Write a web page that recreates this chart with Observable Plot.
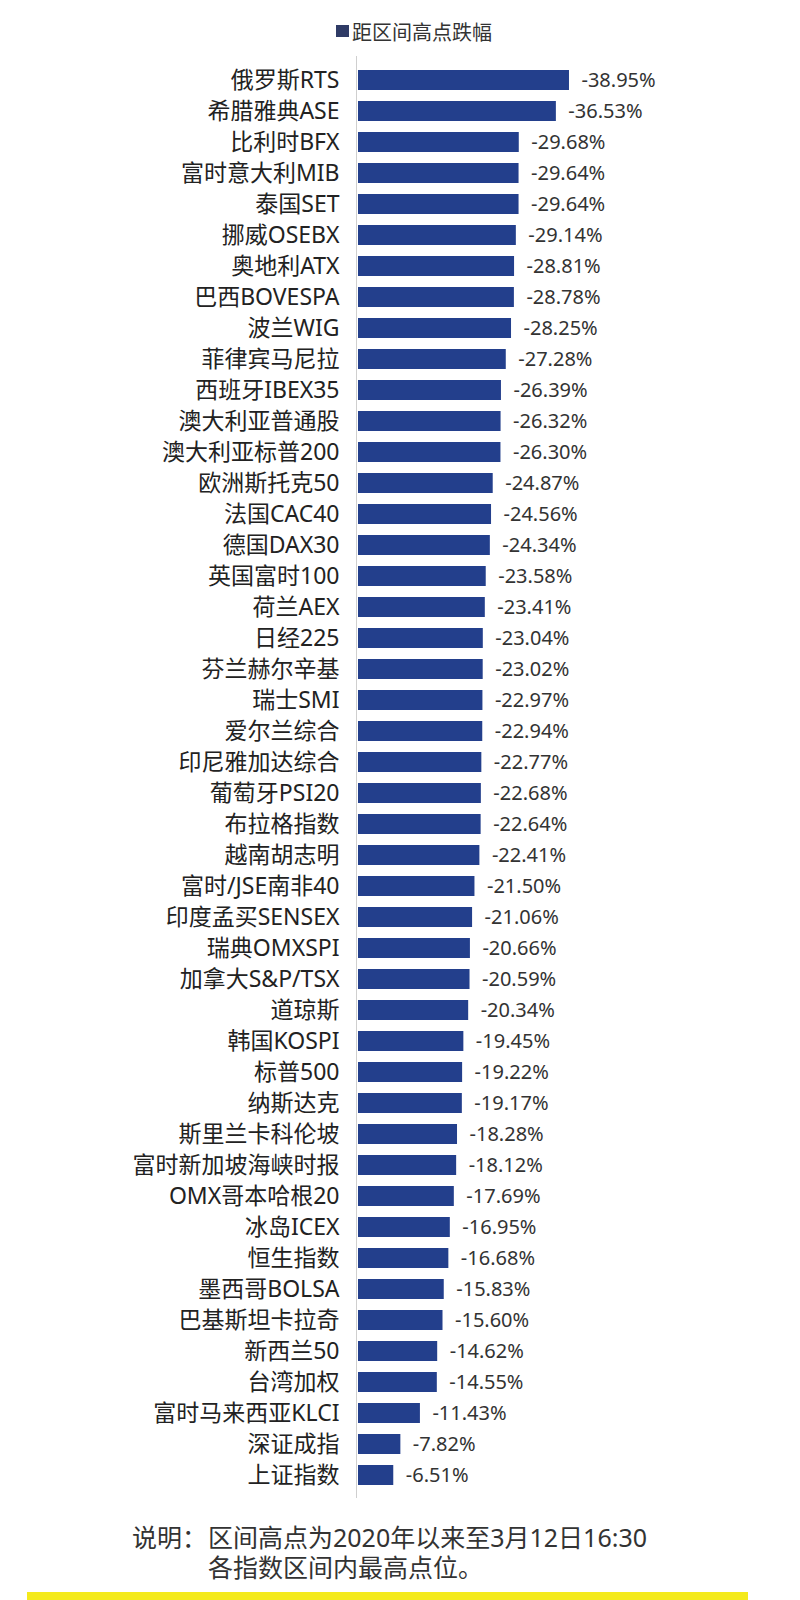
<!DOCTYPE html>
<html>
<head>
<meta charset="utf-8">
<script src="https://cdn.jsdelivr.net/npm/d3@7"></script>
<script src="https://cdn.jsdelivr.net/npm/@observablehq/plot@0.6"></script>
<style>
  html, body { margin: 0; padding: 0; background: #ffffff; }
  body { width: 800px; height: 1600px; position: relative; overflow: hidden;
         font-family: "Noto Sans", "Noto Sans CJK SC", sans-serif; }
  #legend { position: absolute; left: 336px; top: 17px; height: 28px; display: flex; align-items: center;
            font-size: 20px; color: #333; white-space: nowrap; }
  #legend .sw { width: 13px; height: 12px; background: #2f3b66; margin-right: 3px; }
  #chart { position: absolute; left: 0; top: 50px; }
  #caption { position: absolute; left: 132px; top: 1522px; font-size: 25px; line-height: 30px; color: #333; }
  #caption .lead { position: absolute; left: 0; top: 0; white-space: nowrap; }
  #caption .body { position: absolute; left: 76px; top: 0; white-space: nowrap; }
  #strip { position: absolute; left: 27px; top: 1592px; width: 721px; height: 8px; background: #f4ea1c; }
</style>
</head>
<body>
<div id="legend"><div class="sw"></div><span>距区间高点跌幅</span></div>
<div id="chart"></div>
<div id="caption"><div class="lead">说明：</div><div class="body">区间高点为2020年以来至3月12日16:30<br>各指数区间内最高点位。</div></div>
<div id="strip"></div>
<script>
const names = [
  "俄罗斯RTS", "希腊雅典ASE", "比利时BFX", "富时意大利MIB", "泰国SET", "挪威OSEBX",
  "奥地利ATX", "巴西BOVESPA", "波兰WIG", "菲律宾马尼拉", "西班牙IBEX35", "澳大利亚普通股",
  "澳大利亚标普200", "欧洲斯托克50", "法国CAC40", "德国DAX30", "英国富时100", "荷兰AEX",
  "日经225", "芬兰赫尔辛基", "瑞士SMI", "爱尔兰综合", "印尼雅加达综合", "葡萄牙PSI20",
  "布拉格指数", "越南胡志明", "富时/JSE南非40", "印度孟买SENSEX", "瑞典OMXSPI", "加拿大S&P/TSX",
  "道琼斯", "韩国KOSPI", "标普500", "纳斯达克", "斯里兰卡科伦坡", "富时新加坡海峡时报",
  "OMX哥本哈根20", "冰岛ICEX", "恒生指数", "墨西哥BOLSA", "巴基斯坦卡拉奇", "新西兰50",
  "台湾加权", "富时马来西亚KLCI", "深证成指", "上证指数"
];
const values = [
  -38.95, -36.53, -29.68, -29.64, -29.64, -29.14,
  -28.81, -28.78, -28.25, -27.28, -26.39, -26.32,
  -26.30, -24.87, -24.56, -24.34, -23.58, -23.41,
  -23.04, -23.02, -22.97, -22.94, -22.77, -22.68,
  -22.64, -22.41, -21.50, -21.06, -20.66, -20.59,
  -20.34, -19.45, -19.22, -19.17, -18.28, -18.12,
  -17.69, -16.95, -16.68, -15.83, -15.60, -14.62,
  -14.55, -11.43, -7.82, -6.51
];
const seriesName = "距区间高点跌幅";

const data = names.map((name, i) => ({name, value: values[i]}));

const chart = Plot.plot({
  width: 800,
  height: 1460,
  marginTop: 6,
  marginBottom: 12,
  marginLeft: 358,
  marginRight: 117,
  style: {fontFamily: '"Noto Sans", "Noto Sans CJK SC", sans-serif', background: "transparent"},
  x: {domain: [0, -60], axis: null},
  y: {domain: names, padding: 0.357, axis: null},
  marks: [
    Plot.ruleX([0], {stroke: "#cfcfcf", strokeWidth: 1, dx: -2}),
    Plot.barX(data, {x: "value", y: "name", fill: "#233f8c", title: d => seriesName}),
    Plot.text(data, {
      x: "value", y: "name",
      text: d => d.value.toFixed(2) + "%",
      textAnchor: "start", dx: 12, fontSize: 20, fill: "#333"
    }),
    Plot.axisY({tickSize: 0, tickPadding: 19, fontSize: 23, fill: "#222", label: null})
  ]
});
document.getElementById("chart").appendChild(chart);
</script>
</body>
</html>
